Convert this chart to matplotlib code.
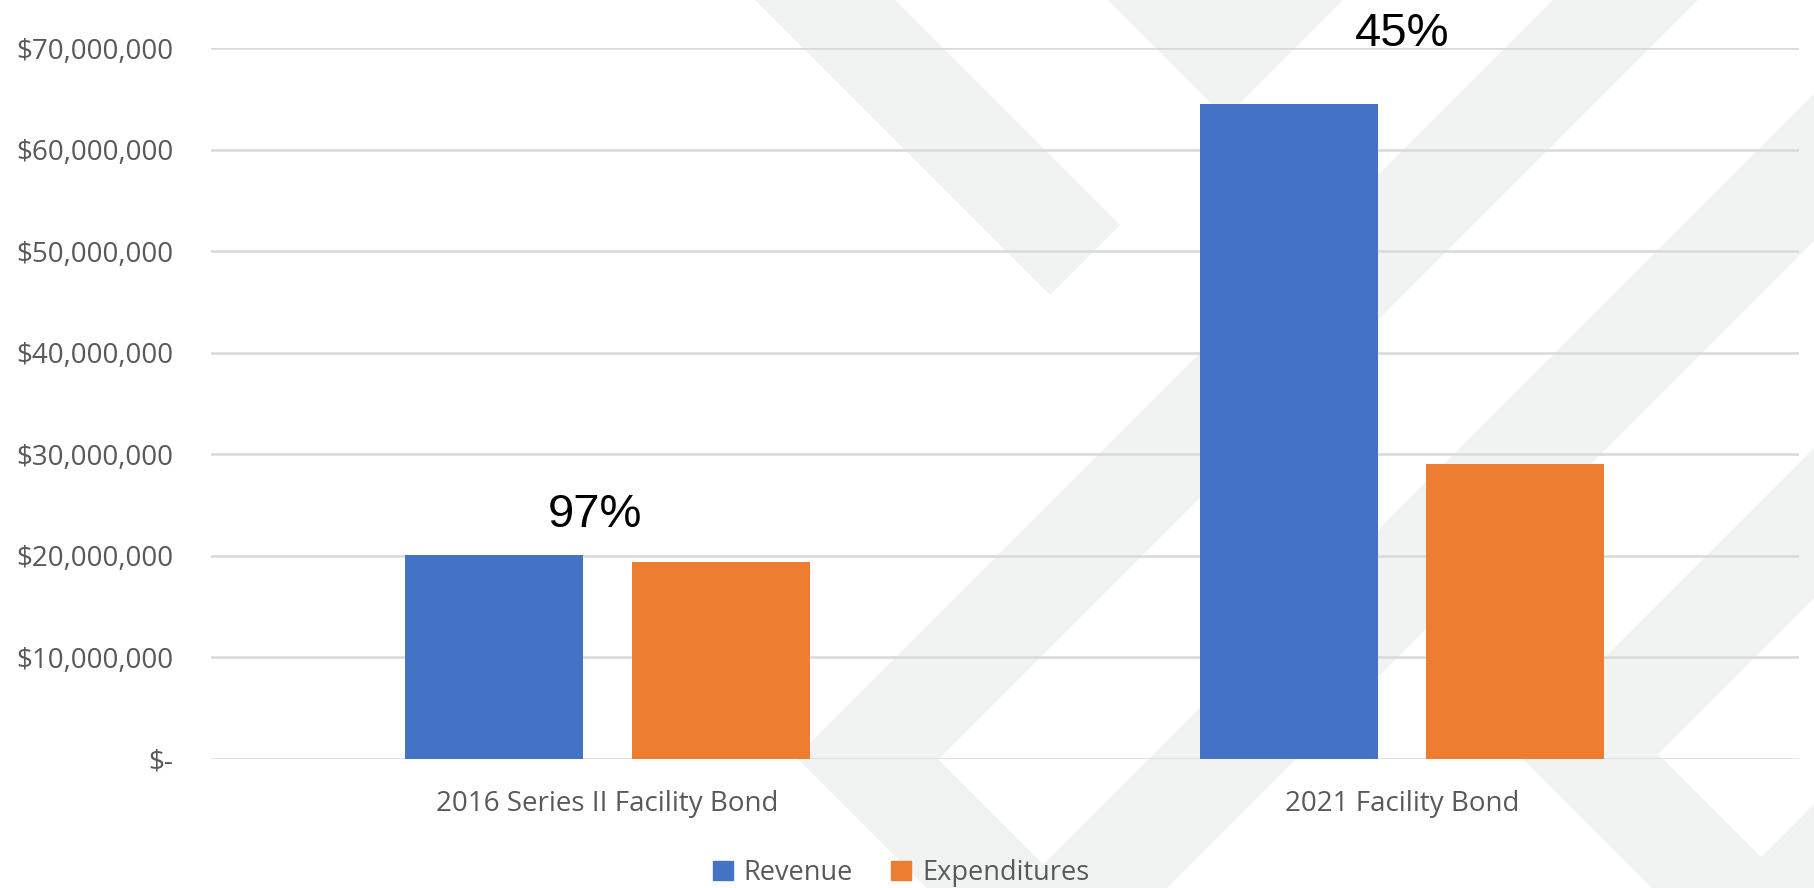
import matplotlib
matplotlib.use("Agg")
import matplotlib.pyplot as plt
from matplotlib.patches import Polygon, Patch
from matplotlib.ticker import FuncFormatter, MultipleLocator

# === Data ===
categories = ["2016 Series II Facility Bond", "2021 Facility Bond"]
revenue = [20_100_000, 64_500_000]
expenditures = [19_450_000, 29_100_000]
pct_labels = ["97%", "45%"]

BLUE = "#4472C4"
ORANGE = "#ED7D31"
GRID = "#D9D9D9"
TXT = "#595959"
STRIPE = "#F1F3F3"
W, H = 1814, 888

plt.rcParams["font.family"] = ["Open Sans", "DejaVu Sans"]

fig = plt.figure(figsize=(W / 100, H / 100), dpi=100)

# === Background watermark (figure pixel coords) ===
bg = fig.add_axes([0, 0, 1, 1], zorder=-1)
bg.set_xlim(0, W)
bg.set_ylim(H, 0)
bg.axis("off")
shapes = [
    [(755, 0), (895, 0), (1120, 225), (1050, 295)],
    [(1108, 0), (1343, 0), (1225.5, 117.5)],
    [(1553, 0), (796, 757), (927, 888), (1167, 888), (1814, 241),
     (1814, 94), (1043.5, 864.5), (938.5, 759.5), (1698, 0)],
    [(1814, 448), (1513, 749), (1652, 888), (1814, 888), (1814, 804),
     (1761, 857), (1658, 754), (1814, 598)],
]
for pts in shapes:
    bg.add_patch(Polygon(pts, closed=True, facecolor=STRIPE, edgecolor="none"))

# === Main chart ===
ax = fig.add_axes([210.5 / W, 1 - 759 / H, (1799 - 210.5) / W, (759 - 48.3) / H])
ax.set_facecolor("none")

x = range(len(categories))
bw = 0.224
off = 0.1425
ax.bar([i - off for i in x], revenue, bw, color=BLUE, label="Revenue", zorder=3)
ax.bar([i + off for i in x], expenditures, bw, color=ORANGE, label="Expenditures", zorder=3)

ax.set_xlim(-0.5, 1.5)
ax.set_ylim(0, 70_000_000)
ax.yaxis.set_major_locator(MultipleLocator(10_000_000))
ax.yaxis.set_major_formatter(FuncFormatter(lambda v, p: "$-" if v == 0 else f"${v:,.0f}"))
ax.set_xticks(list(x))
ax.set_xticklabels(categories)

ax.grid(axis="y", color=GRID, linewidth=1.8, zorder=1)
ax.set_axisbelow(True)
for s in ax.spines.values():
    s.set_visible(False)
ax.tick_params(axis="y", length=0, pad=27, labelsize=20, labelcolor=TXT)
ax.tick_params(axis="x", length=0, pad=22, labelsize=20, labelcolor=TXT)

# percentage labels (manually placed text boxes in the original)
label_y = [22_850_000, 70_250_000]
label_dx = [-0.016, 0.0]
for i, t in enumerate(pct_labels):
    ax.text(i + label_dx[i], label_y[i], t, ha="center", va="baseline",
            fontsize=34, family="Liberation Sans", color="black", clip_on=False)

handles = [Patch(color=BLUE, label="Revenue"), Patch(color=ORANGE, label="Expenditures")]
fig.legend(handles=handles, loc="center", bbox_to_anchor=(901 / W, 1 - 873 / H),
           ncol=2, frameon=False, fontsize=19.5, labelcolor=TXT,
           handlelength=0.75, handleheight=0.75, handletextpad=0.4, columnspacing=1.4)

fig.savefig("out.png", dpi=100)
plt.close(fig)
